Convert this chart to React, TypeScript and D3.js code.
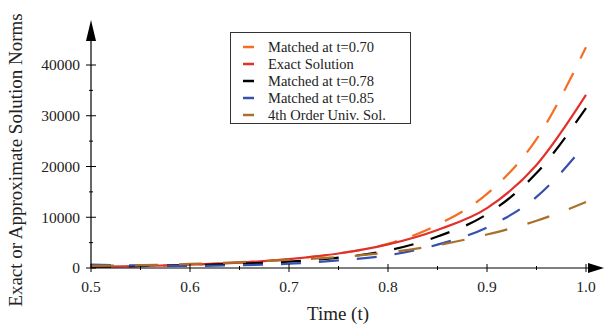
import React from "react";
import * as d3 from "d3";

// time grid (t) and solution norms
const times = [0.5, 0.55, 0.6, 0.65, 0.7, 0.75, 0.8, 0.85, 0.9, 0.95, 1.0];
const matched070 = [230, 380, 640, 1060, 1750, 2850, 4750, 8500, 14600, 25400, 43500];
const exactSolution = [230, 380, 640, 1060, 1750, 2850, 4650, 7500, 11800, 20300, 34100];
const matched078 = [300, 400, 560, 850, 1250, 2050, 3450, 6200, 10600, 18700, 31500];
const matched085 = [650, 500, 420, 550, 850, 1500, 2500, 4600, 8000, 14000, 24500];
const univ4th = [400, 550, 800, 1150, 1600, 2150, 3050, 4500, 6600, 9300, 13000];

const xTicks = [0.5, 0.6, 0.7, 0.8, 0.9, 1.0];
const xMinor = [0.55, 0.65, 0.75, 0.85, 0.95];
const yTicks = [0, 10000, 20000, 30000, 40000];
const yMinor = [5000, 15000, 25000, 35000];

const series = [
  { name: "Matched at t=0.70", values: matched070, color: "#f36f21", dash: "20,16" },
  { name: "Exact Solution", values: exactSolution, color: "#e2312a", dash: null },
  { name: "Matched at t=0.78", values: matched078, color: "#000000", dash: "20,18" },
  { name: "Matched at t=0.85", values: matched085, color: "#3550ae", dash: "20,18" },
  { name: "4th Order Univ. Sol.", values: univ4th, color: "#a8702a", dash: "23,21" },
];

const W = 604;
const H = 328;
const font = "'Liberation Serif', 'Times New Roman', serif";

export default function App() {
  const x = d3.scaleLinear().domain([0.5, 1.0]).range([91, 586]);
  const y = d3.scaleLinear().domain([0, 40000]).range([268, 65]);

  const lineGen = (vals: number[]) =>
    d3
      .line<number>()
      .x((_, i) => x(times[i]))
      .y((v) => y(v))
      .curve(d3.curveMonotoneX)(vals) as string;

  const x0 = x(0.5);
  const y0 = y(0);

  return (
    <svg
      width={W}
      height={H}
      style={{ position: "absolute", left: 0, top: 0, background: "#fff" }}
      fontFamily={font}
    >
      {/* curves */}
      {series.map((s) => (
        <path
          key={s.name}
          d={lineGen(s.values)}
          fill="none"
          stroke={s.color}
          strokeWidth={2.2}
          strokeDasharray={s.dash ?? undefined}
        />
      ))}

      {/* y axis */}
      <line x1={x0} x2={x0} y1={y0} y2={32} stroke="#000" strokeWidth={1.2} />
      <path d={`M${x0},20 L${x0 - 5},41 L${x0 + 5},41 Z`} fill="#000" />
      {yTicks.map((t) => (
        <g key={"y" + t}>
          <line x1={x0 - 5} x2={x0 + 5} y1={y(t)} y2={y(t)} stroke="#000" strokeWidth={1} />
          <text x={80} y={y(t)} dy="0.35em" textAnchor="end" fontSize={15.5} fill="#222">
            {t}
          </text>
        </g>
      ))}
      {yMinor.map((t) => (
        <line key={"ym" + t} x1={x0 - 2} x2={x0 + 2} y1={y(t)} y2={y(t)} stroke="#000" strokeWidth={1} />
      ))}

      {/* x axis */}
      <line x1={x0} x2={592} y1={y0} y2={y0} stroke="#000" strokeWidth={1.2} />
      <path d={`M604,${y0} L588,${y0 - 5} L588,${y0 + 5} Z`} fill="#000" />
      {xTicks.map((t) => (
        <g key={"x" + t}>
          <line x1={x(t)} x2={x(t)} y1={y0 - 4} y2={y0 + 4} stroke="#000" strokeWidth={1} />
          <text x={x(t)} y={292} textAnchor="middle" fontSize={15.5} fill="#222">
            {t.toFixed(1)}
          </text>
        </g>
      ))}
      {xMinor.map((t) => (
        <line key={"xm" + t} x1={x(t)} x2={x(t)} y1={y0 - 2} y2={y0 + 2} stroke="#000" strokeWidth={1} />
      ))}

      {/* axis titles */}
      <text x={338} y={320} textAnchor="middle" fontSize={19} fill="#222">
        Time (t)
      </text>
      <text
        transform={`translate(22,160) rotate(-90)`}
        textAnchor="middle"
        fontSize={19}
        fill="#222"
      >
        Exact or Approximate Solution Norms
      </text>

      {/* legend */}
      <rect x={230.5} y={32.5} width={180} height={91} fill="#fff" stroke="#333" strokeWidth={1} />
      {series.map((s, i) => (
        <g key={"lg" + s.name} transform={`translate(0, ${47 + i * 17})`}>
          <line x1={243} x2={254} y1={0} y2={0} stroke={s.color} strokeWidth={2.5} />
          <text x={268} y={0} dy="0.35em" fontSize={14.5} fill="#222">
            {s.name}
          </text>
        </g>
      ))}
    </svg>
  );
}
